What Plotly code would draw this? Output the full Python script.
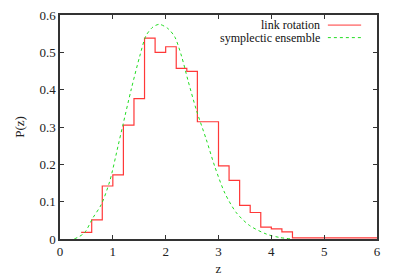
import plotly.graph_objects as go

# Histogram "link rotation": bin edges and bin heights
bin_edges = [0.4, 0.6, 0.8, 1.0, 1.2, 1.4, 1.6, 1.8, 2.0, 2.2, 2.4, 2.6, 2.8,
             3.0, 3.2, 3.4, 3.6, 3.8, 4.0, 4.2, 4.4, 6.0]
bin_heights = [0.018, 0.051, 0.142, 0.172, 0.305, 0.376, 0.538, 0.500, 0.515,
               0.457, 0.449, 0.314, 0.314, 0.196, 0.157, 0.090, 0.071, 0.032,
               0.027, 0.019, 0.003]

# "symplectic ensemble" curve
curve_z = [0.27, 0.46, 0.62, 0.78, 0.94, 1.1, 1.19, 1.35, 1.51, 1.63, 1.76, 1.88,
           2.04, 2.17, 2.3, 2.42, 2.58, 2.77, 2.93, 3.12, 3.34, 3.59, 3.91, 4.16, 4.4]
curve_p = [0.0, 0.016, 0.056, 0.092, 0.154, 0.25, 0.305, 0.402, 0.49, 0.545, 0.568, 0.575,
           0.564, 0.542, 0.49, 0.426, 0.346, 0.266, 0.194, 0.123, 0.07, 0.036, 0.013, 0.004, 0.0]

x_ticks = [0, 1, 2, 3, 4, 5, 6]
y_ticks = [0, 0.1, 0.2, 0.3, 0.4, 0.5, 0.6]
y_tick_text = ["0", "0.1", "0.2", "0.3", "0.4", "0.5", "0.6"]

legend_labels = ["link rotation", "symplectic ensemble"]
red = "#ff3838"
green = "#22dd22"
font = "Liberation Serif"

fig = go.Figure()
fig.add_trace(go.Scatter(
    x=bin_edges, y=bin_heights + [bin_heights[-1]], mode="lines",
    line=dict(color=red, width=1.2, shape="hv"), showlegend=False, hoverinfo="skip"))
fig.add_trace(go.Scatter(
    x=curve_z, y=curve_p, mode="lines",
    line=dict(color=green, width=1, dash="dot", shape="spline", smoothing=0.8),
    showlegend=False, hoverinfo="skip"))

# gnuplot-like legend: text right-aligned, line sample on the right
for i, (lab, col, dash) in enumerate(zip(legend_labels, [red, green], ["solid", "dot"])):
    yy = 0.955 - i * 0.056
    fig.add_annotation(x=0.825, y=yy, xref="paper", yref="paper", text=lab,
                       showarrow=False, xanchor="right", yanchor="middle",
                       font=dict(family=font, size=12, color="#111"))
    fig.add_shape(type="line", xref="paper", yref="paper", x0=0.845, x1=0.95,
                  y0=yy, y1=yy, line=dict(color=col, width=1, dash=dash))

axis_common = dict(showgrid=False, zeroline=False, showline=True, mirror="ticks",
                   linecolor="#333", linewidth=1.5, ticks="inside", ticklen=4,
                   tickcolor="#333", tickwidth=1, automargin=False,
                   tickfont=dict(family=font, size=13, color="#222"))
fig.update_xaxes(range=[0, 6], tickvals=x_ticks, ticktext=[str(v) for v in x_ticks],
                 title=dict(text="z", font=dict(family=font, size=13, color="#222"), standoff=6),
                 **axis_common)
fig.update_yaxes(range=[0, 0.6], tickvals=y_ticks, ticktext=y_tick_text,
                 title=dict(text="P(z)", font=dict(family=font, size=13, color="#222"), standoff=12),
                 **axis_common)
fig.update_layout(width=399, height=279, margin=dict(l=60, r=22, t=15, b=40),
                  plot_bgcolor="white", paper_bgcolor="white",
                  font=dict(family=font), hovermode=False)
fig.write_html("out.html", config={"displayModeBar": False},
               post_script="document.body.style.margin='0';")
